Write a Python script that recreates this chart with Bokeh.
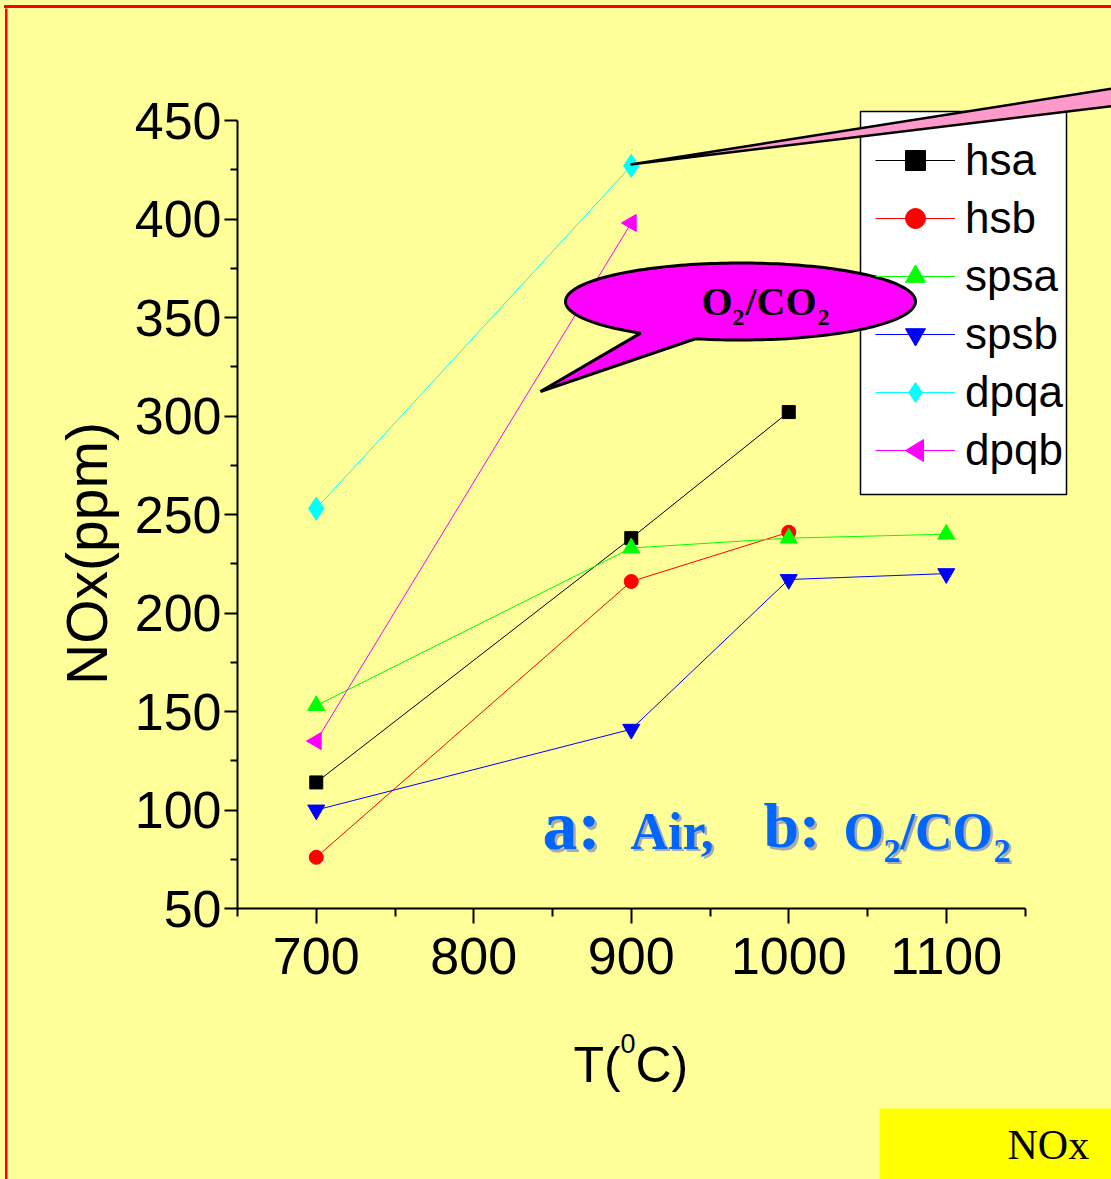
import numpy as np
from bokeh.plotting import figure
from bokeh.layouts import row, column
from bokeh.models import (FixedTicker, Legend, LegendItem, Label, PolyAnnotation, Range1d,
                          Spacer)
from bokeh.core.properties import value
from bokeh.embed import file_html
from bokeh.resources import INLINE

# ---------------- data ----------------
series_names = ["hsa", "hsb", "spsa", "spsb", "dpqa", "dpqb"]
hsa_T = [700, 900, 1000]
hsa_NOx = [114, 238, 302]
hsb_T = [700, 900, 1000]
hsb_NOx = [76, 216, 241]
spsa_T = [700, 900, 1000, 1100]
spsa_NOx = [153, 233, 238, 240]
spsb_T = [700, 900, 1000, 1100]
spsb_NOx = [100, 141, 217, 220]
dpqa_T = [700, 900]
dpqa_NOx = [253, 427]
dpqb_T = [700, 900]
dpqb_NOx = [135, 398]

x_ticks = [700, 800, 900, 1000, 1100]
x_minor_ticks = [650, 750, 850, 950, 1050, 1150]
y_ticks = [50, 100, 150, 200, 250, 300, 350, 400, 450]
y_minor_ticks = [75, 125, 175, 225, 275, 325, 375, 425]

y_title = "NOx(ppm)"
x_title_parts = ["T(", "0", "C)"]
tag_text = "NOx"

# ---------------- layout (page pixels) ----------------
RIGHT, BOTTOM = 1111, 1179
TOPSTRIP = 8              # space carrying the red top rule
SPLIT_X = 128             # left strip | main figure
SPLIT_Y = 1020            # main figure | bottom strip
AX_X0, AX_X1 = 650, 1150
AX_Y0, AX_Y1 = 50, 450
PX_X0, PX_Y0 = 237, 908   # page pixel of (650, 50)
SX, SY = 1.575, 1.97      # pixels per data unit
KB = 0.37                 # baseline correction (fraction of font size)


def dx(px):
    return AX_X0 + (px - PX_X0) / SX


def dy(py):
    return AX_Y0 + (PX_Y0 - py) / SY


BG = "#FFFF99"
RED = "#FF0000"
SANS = "Liberation Sans"
SERIF = "Liberation Serif"


def noalign(f):
    if "frame_align" in f.properties():
        f.frame_align = False
    return f


def blank(w, h, xr, yr, mbl=0):
    f = figure(width=w, height=h, output_backend="svg", toolbar_location=None,
               x_range=xr, y_range=yr, x_axis_location=None, y_axis_location=None,
               min_border=0)
    f.min_border_left = mbl
    f.background_fill_color = BG
    f.border_fill_color = BG
    f.outline_line_color = None
    f.grid.visible = False
    return noalign(f)


top_space = Spacer(width=RIGHT, height=TOPSTRIP)

# left strip with red rule and the y title
figL = blank(SPLIT_X, BOTTOM - TOPSTRIP, Range1d(0, SPLIT_X), Range1d(BOTTOM, TOPSTRIP))
figL.quad(left=[4.5], right=[7], top=[TOPSTRIP - 1], bottom=[BOTTOM + 2],
          fill_color=RED, line_color=None)
figL.text(x=[108 - KB * 57], y=[553], text=[y_title], angle=np.pi / 2, text_align="center",
          text_baseline="alphabetic", text_font=value(SANS), text_font_size="57px",
          text_color="black")

# bottom strip with x title and tag
figB = blank(RIGHT - SPLIT_X, BOTTOM - SPLIT_Y, Range1d(PX_X0, RIGHT), Range1d(BOTTOM, SPLIT_Y),
             mbl=PX_X0 - SPLIT_X)
figB.text(x=[573, 620, 635], y=[1083 - KB * 50, 1053 - KB * 27, 1083 - KB * 50],
          text=x_title_parts, text_font_size=["50px", "27px", "50px"], text_font=value(SANS),
          text_align="left", text_baseline="alphabetic", text_color="black")
figB.quad(left=[879], right=[RIGHT + 5], top=[1108], bottom=[BOTTOM + 5],
          fill_color="#FFFF00", line_color=None)
figB.text(x=[1007], y=[1160 - KB * 42], text=[tag_text], text_font=value(SERIF),
          text_font_size="42px", text_align="left", text_baseline="alphabetic",
          text_color="black")

# main plot
p = figure(width=RIGHT - SPLIT_X, height=SPLIT_Y - TOPSTRIP, output_backend="svg",
           toolbar_location=None,
           x_range=Range1d(AX_X0, dx(RIGHT)), y_range=Range1d(AX_Y0, dy(TOPSTRIP)),
           min_border_left=PX_X0 - SPLIT_X, min_border_bottom=SPLIT_Y - PX_Y0,
           min_border_top=0, min_border_right=0)
noalign(p)
p.background_fill_color = BG
p.border_fill_color = BG
p.outline_line_color = None
p.grid.visible = False

for ax, tk, mn, bnd in ((p.xaxis[0], x_ticks, x_minor_ticks, (AX_X0, AX_X1)),
                        (p.yaxis[0], y_ticks, y_minor_ticks, (AX_Y0, AX_Y1))):
    ax.ticker = FixedTicker(ticks=tk, minor_ticks=mn)
    ax.bounds = bnd
    ax.axis_line_width = 2
    ax.major_tick_line_width = 2
    ax.minor_tick_line_width = 2
    ax.major_tick_in = 0
    ax.minor_tick_in = 0
    ax.major_label_text_font = SANS
    ax.major_label_text_font_size = "52px"
    ax.major_label_text_color = "black"
p.xaxis.major_tick_out = 15
p.xaxis.minor_tick_out = 8
p.yaxis.major_tick_out = 13
p.yaxis.minor_tick_out = 7
p.xaxis.major_label_standoff = 14
p.yaxis.major_label_standoff = 3

# legend frame (white box), drawn as a glyph so the callouts can sit above it
LG_L, LG_R, LG_T, LG_B = 860, 1066, 111, 494
p.quad(left=[dx(LG_L)], right=[dx(LG_R)], top=[dy(LG_T)], bottom=[dy(LG_B)],
       fill_color="white", line_color="black", line_width=1.5)

specs = [
    (hsa_T, hsa_NOx, "black", "square", 13, 0),
    (hsb_T, hsb_NOx, "#FF0000", "circle", 14, 0),
    (spsa_T, spsa_NOx, "#00FF00", "triangle", 17, 0),
    (spsb_T, spsb_NOx, "#0000FF", "inverted_triangle", 17, 0),
    (dpqa_T, dpqa_NOx, "#00FFFF", "diamond", 23, 0),
    (dpqb_T, dpqb_NOx, "#FF00FF", "triangle", 17, np.pi / 2),
]
items = []
for name, (xs, ys, col, mk, sz, ang) in zip(series_names, specs):
    ln = p.line(xs, ys, line_color=col, line_width=1)
    sc = p.scatter(xs, ys, marker=mk, size=sz, angle=ang, fill_color=col, line_color=col)
    items.append(LegendItem(label=name, renderers=[ln] if ang else [ln, sc]))

LG_PAD, LG_GW, LG_RH = 15, 80, 58
legend = Legend(items=items, location=(LG_L + LG_PAD - PX_X0, PX_Y0 - (LG_B - LG_PAD)),
                label_text_font=SANS, label_text_font_size="44px", label_text_color="black",
                glyph_width=LG_GW, glyph_height=50, label_height=LG_RH, label_standoff=10,
                spacing=0, padding=LG_PAD, margin=0,
                border_line_color=None, background_fill_alpha=0.0)
p.add_layout(legend, "center")

# left-pointing legend marker for the last item (legend ignores marker angle)
gx = LG_L + LG_PAD + LG_GW / 2
gy = LG_B - LG_PAD - LG_RH / 2
tri = [(gx - 10, gy), (gx + 8, gy - 11), (gx + 8, gy + 11)]
p.add_layout(PolyAnnotation(xs=[dx(a) for a, b in tri], ys=[dy(b) for a, b in tri],
                            fill_color="#FF00FF", fill_alpha=1.0, line_color="#FF00FF",
                            line_alpha=1.0, line_width=1, level="overlay"))

# callout bubble
cx, cy, ea, eb = 740, 301, 175, 38.5
t1, t2 = np.deg2rad(104.9), np.deg2rad(124.8)
tA = np.linspace(0, t1, 60)
tB = np.linspace(t2, 2 * np.pi, 140)
bx = list(cx + ea * np.cos(tA)) + [540] + list(cx + ea * np.cos(tB))
by = list(cy + eb * np.sin(tA)) + [391] + list(cy + eb * np.sin(tB))
p.add_layout(PolyAnnotation(xs=[dx(v) for v in bx], ys=[dy(v) for v in by],
                            fill_color="#FF00FF", fill_alpha=1.0,
                            line_color="black", line_alpha=1.0, line_width=3, level="overlay"))

wedge_px = [(630, 164), (1125, 86), (1125, 104)]
p.add_layout(PolyAnnotation(xs=[dx(a) for a, b in wedge_px], ys=[dy(b) for a, b in wedge_px],
                            fill_color="#FF99CC", fill_alpha=1.0,
                            line_color="black", line_alpha=1.0, line_width=2.5, level="overlay"))


def lab(text, px, py, size, color="black", shadow=None):
    yb = py - KB * size
    if shadow:
        p.add_layout(Label(x=dx(px + 2.5), y=dy(yb + 2.5), text=text, text_font=SERIF,
                           text_font_size=f"{size}px", text_font_style="bold",
                           text_color=shadow, text_align="left", text_baseline="alphabetic",
                           level="overlay"))
    p.add_layout(Label(x=dx(px), y=dy(yb), text=text, text_font=SERIF,
                       text_font_size=f"{size}px", text_font_style="bold",
                       text_color=color, text_align="left", text_baseline="alphabetic",
                       level="overlay"))


# callout text
lab("O", 701, 316, 40)
lab("2", 732, 326, 24)
lab("/CO", 745, 316, 40)
lab("2", 817, 326, 24)

# blue note
BLUE, SHADOW = "#0066FF", "#AAAAAA"
lab("a:", 542, 851, 70, color=BLUE, shadow=SHADOW)
lab("Air,", 630, 850, 52, color=BLUE, shadow=SHADOW)
lab("b:", 763, 849, 64, color=BLUE, shadow=SHADOW)
lab("O", 843, 850, 52, color=BLUE, shadow=SHADOW)
lab("2", 883, 863, 34, color=BLUE, shadow=SHADOW)
lab("/CO", 900, 850, 52, color=BLUE, shadow=SHADOW)
lab("2", 993, 863, 34, color=BLUE, shadow=SHADOW)

layout = column(top_space, row(figL, column(p, figB)))
layout.styles = {"background": f"linear-gradient({RED}, {RED}) 4px 5px / 1107px 3px no-repeat, {BG}"}
open("out.html", "w").write(file_html(layout, INLINE))
